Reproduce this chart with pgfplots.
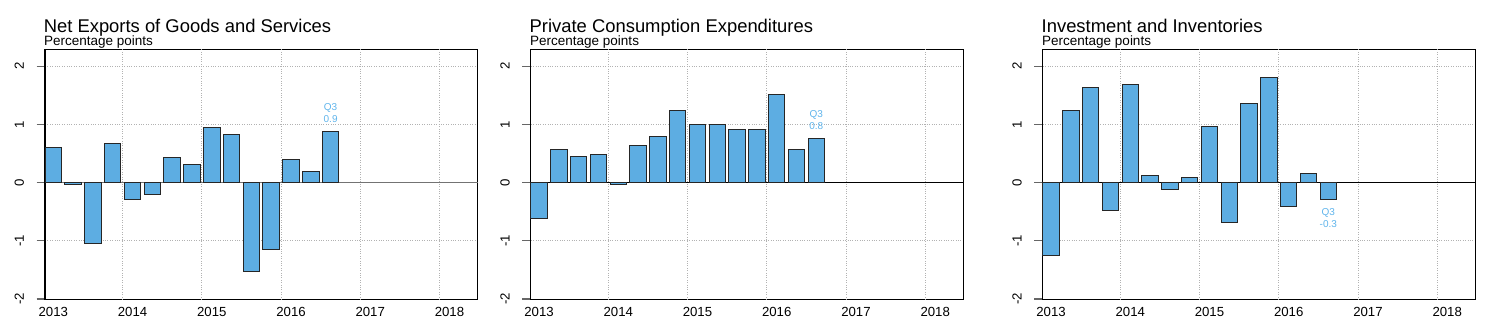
\documentclass[border=0pt]{standalone}
\usepackage{fontspec}
\setmainfont{Liberation Sans}
\usepackage{pgfplots}
\pgfplotsset{compat=1.18}
\definecolor{barblue}{RGB}{93,173,226}
\definecolor{lblblue}{RGB}{95,180,235}
\newcommand{\tickfont}{\fontsize{13.2}{14}\selectfont}
\pgfplotsset{panel/.style={
  scale only axis, width=432.6pt, height=250pt, anchor=south west,
  xmin=2013.02, xmax=2018.48, ymin=-2.005, ymax=2.29,
  axis line style={line width=1.3pt, black},
  /pgf/number format/assume math mode=true,
  xtick={2013.125,2014.125,2015.125,2016.125,2017.125,2018.125},
  xticklabels={2013,2014,2015,2016,2017,2018},
  major x tick style={draw=none},
  extra x ticks={2014,2015,2016,2017,2018}, extra x tick labels={},
  extra x tick style={grid=major, major tick length=0pt},
  ytick={-2,-1,0,1,2}, yticklabels={-2,-1,0,1,2}, ymajorgrids,
  grid style={dotted, black!30, line width=1pt},
  tick align=outside, major tick length=8.5pt, ytick pos=left,
  major y tick style={draw=black!60, line width=1.2pt},
  yticklabel style={rotate=90, anchor=south, font=\tickfont},
  yticklabel shift=9pt,
  xticklabel style={font=\tickfont, yshift=4.5pt},
  clip=false,
}, mybar/.style={ybar, bar width=0.208, bar shift=0pt, fill=barblue, draw=black!85, line width=1pt},
}
\begin{document}
\begin{tikzpicture}
\path[use as bounding box] (0,0) rectangle (1500pt,335pt);
% Panel 1
\begin{axis}[panel, at={(45pt,35.7pt)}]
\addplot[sharp plot, draw=black!55, line width=1.4pt, forget plot] coordinates {(2013.02,0) (2018.48,0)};
\addplot[mybar] coordinates {
(2013.125,0.60) (2013.375,-0.04) (2013.625,-1.04) (2013.875,0.67)
(2014.125,-0.29) (2014.375,-0.20) (2014.625,0.43) (2014.875,0.31)
(2015.125,0.95) (2015.375,0.83) (2015.625,-1.52) (2015.875,-1.15)
(2016.125,0.39) (2016.375,0.19) (2016.625,0.87)};
\node[anchor=base, text=lblblue, font=\fontsize{10}{11}\selectfont] at (axis cs:2016.625,1.23) {Q3};
\node[anchor=base, text=lblblue, font=\fontsize{10}{11}\selectfont] at (axis cs:2016.625,1.024) {0.9};
\end{axis}
% Panel 2
\begin{axis}[panel, at={(530.7pt,35.7pt)}]
\addplot[sharp plot, draw=black, line width=1.1pt, forget plot] coordinates {(2013.02,0) (2018.48,0)};
\addplot[mybar] coordinates {
(2013.125,-0.61) (2013.375,0.56) (2013.625,0.44) (2013.875,0.48)
(2014.125,-0.04) (2014.375,0.64) (2014.625,0.80) (2014.875,1.24)
(2015.125,1.00) (2015.375,1.00) (2015.625,0.92) (2015.875,0.92)
(2016.125,1.52) (2016.375,0.56) (2016.625,0.76)};
\node[anchor=base, text=lblblue, font=\fontsize{10}{11}\selectfont] at (axis cs:2016.625,1.12) {Q3};
\node[anchor=base, text=lblblue, font=\fontsize{10}{11}\selectfont] at (axis cs:2016.625,0.91) {0.8};
\end{axis}
% Panel 3
\begin{axis}[panel, at={(1042.7pt,35.7pt)}]
\addplot[sharp plot, draw=black, line width=1.1pt, forget plot] coordinates {(2013.02,0) (2018.48,0)};
\addplot[mybar] coordinates {
(2013.125,-1.25) (2013.375,1.24) (2013.625,1.64) (2013.875,-0.48)
(2014.125,1.68) (2014.375,0.115) (2014.625,-0.126) (2014.875,0.08)
(2015.125,0.96) (2015.375,-0.68) (2015.625,1.36) (2015.875,1.80)
(2016.125,-0.41) (2016.375,0.16) (2016.625,-0.29)};
\node[anchor=base, text=lblblue, font=\fontsize{10}{11}\selectfont] at (axis cs:2016.625,-0.56) {Q3};
\node[anchor=base, text=lblblue, font=\fontsize{10}{11}\selectfont] at (axis cs:2016.625,-0.77) {-0.3};
\end{axis}
% Titles
\node[anchor=base west, inner sep=0pt, font=\fontsize{18.4}{20}\selectfont] at (43.6pt,302.7pt) {Net Exports of Goods and Services};
\node[anchor=base west, inner sep=0pt, font=\fontsize{13.5}{15}\selectfont] at (44pt,289pt) {Percentage points};
\node[anchor=base west, inner sep=0pt, font=\fontsize{18.4}{20}\selectfont] at (529.5pt,302.7pt) {Private Consumption Expenditures};
\node[anchor=base west, inner sep=0pt, font=\fontsize{13.5}{15}\selectfont] at (530pt,289pt) {Percentage points};
\node[anchor=base west, inner sep=0pt, font=\fontsize{18.4}{20}\selectfont] at (1041.5pt,302.7pt) {Investment and Inventories};
\node[anchor=base west, inner sep=0pt, font=\fontsize{13.5}{15}\selectfont] at (1042pt,289pt) {Percentage points};
\end{tikzpicture}
\end{document}
